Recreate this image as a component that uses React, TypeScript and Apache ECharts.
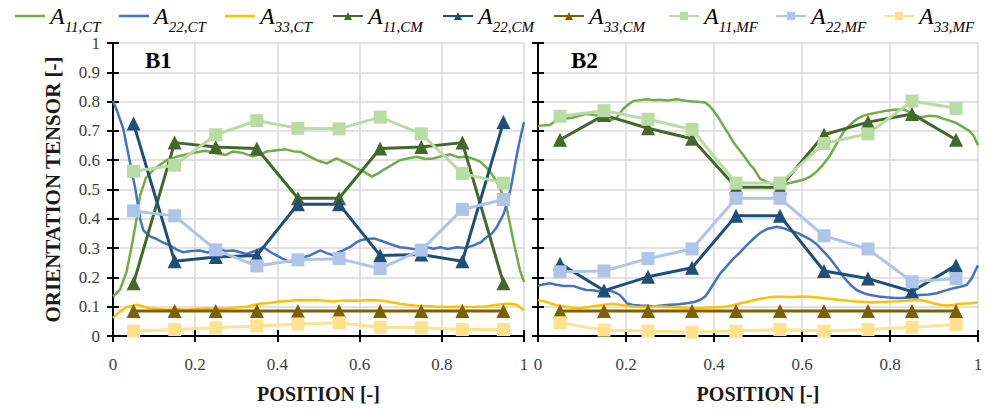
import React, { useEffect, useRef } from "react";
import * as echarts from "echarts";

// ---------- data ----------
const seriesNames = ["A11,CT", "A22,CT", "A33,CT", "A11,CM", "A22,CM", "A33,CM", "A11,MF", "A22,MF", "A33,MF"];
const panelLabels = ["B1", "B2"];
const xAxisTitle = "POSITION [-]";
const yAxisTitle = "ORIENTATION TENSOR [-]";

const discreteX = [0.05, 0.15, 0.25, 0.35, 0.45, 0.55, 0.65, 0.75, 0.85, 0.95];

// B1 discrete series
const b1_A11_CM = [0.18, 0.66, 0.645, 0.64, 0.47, 0.47, 0.64, 0.645, 0.66, 0.18];
const b1_A22_CM = [0.725, 0.255, 0.27, 0.275, 0.45, 0.45, 0.275, 0.278, 0.255, 0.73];
const b1_A33_CM = [0.085, 0.085, 0.085, 0.085, 0.085, 0.085, 0.085, 0.085, 0.085, 0.085];
const b1_A11_MF = [0.562, 0.583, 0.687, 0.735, 0.709, 0.707, 0.747, 0.69, 0.555, 0.522];
const b1_A22_MF = [0.427, 0.41, 0.294, 0.239, 0.26, 0.264, 0.23, 0.293, 0.432, 0.466];
const b1_A33_MF = [0.017, 0.022, 0.028, 0.034, 0.041, 0.045, 0.03, 0.028, 0.022, 0.022];

// B2 discrete series
const b2_A11_CM = [0.67, 0.754, 0.709, 0.673, 0.508, 0.507, 0.687, 0.73, 0.758, 0.67];
const b2_A22_CM = [0.247, 0.155, 0.202, 0.233, 0.41, 0.41, 0.222, 0.196, 0.152, 0.241];
const b2_A33_CM = [0.085, 0.085, 0.085, 0.085, 0.085, 0.085, 0.085, 0.085, 0.085, 0.085];
const b2_A11_MF = [0.75, 0.769, 0.74, 0.705, 0.522, 0.522, 0.657, 0.69, 0.802, 0.777];
const b2_A22_MF = [0.219, 0.222, 0.264, 0.297, 0.47, 0.47, 0.342, 0.297, 0.185, 0.196];
const b2_A33_MF = [0.045, 0.02, 0.017, 0.013, 0.017, 0.022, 0.017, 0.022, 0.03, 0.039];

// B1 continuous (CT) curves: [position, value]
const b1_A11_CT = [[0,0.135],[0.017,0.158],[0.033,0.219],[0.045,0.303],[0.058,0.404],[0.066,0.48],[0.08,0.54],[0.1,0.57],[0.13,0.6],[0.155,0.612],[0.18,0.62],[0.2,0.626],[0.225,0.632],[0.252,0.623],[0.275,0.618],[0.292,0.63],[0.315,0.625],[0.34,0.613],[0.36,0.62],[0.374,0.63],[0.4,0.634],[0.42,0.637],[0.44,0.63],[0.455,0.629],[0.475,0.615],[0.496,0.6],[0.52,0.589],[0.544,0.606],[0.56,0.595],[0.577,0.584],[0.595,0.57],[0.61,0.561],[0.63,0.544],[0.645,0.555],[0.658,0.567],[0.68,0.585],[0.698,0.6],[0.72,0.607],[0.739,0.612],[0.76,0.604],[0.779,0.606],[0.8,0.614],[0.82,0.62],[0.84,0.61],[0.86,0.612],[0.88,0.603],[0.893,0.595],[0.905,0.58],[0.917,0.562],[0.93,0.535],[0.942,0.505],[0.958,0.437],[0.974,0.326],[0.99,0.225],[1,0.185]];
const b1_A22_CT = [[0,0.802],[0.012,0.76],[0.025,0.707],[0.041,0.595],[0.054,0.505],[0.058,0.47],[0.066,0.4],[0.074,0.36],[0.09,0.34],[0.106,0.331],[0.12,0.32],[0.139,0.309],[0.155,0.295],[0.17,0.286],[0.19,0.29],[0.211,0.292],[0.23,0.285],[0.252,0.297],[0.275,0.29],[0.293,0.292],[0.31,0.286],[0.325,0.28],[0.345,0.29],[0.366,0.303],[0.385,0.285],[0.398,0.275],[0.415,0.262],[0.43,0.253],[0.445,0.26],[0.463,0.269],[0.479,0.275],[0.504,0.292],[0.52,0.283],[0.535,0.276],[0.548,0.285],[0.56,0.292],[0.578,0.305],[0.593,0.32],[0.605,0.328],[0.617,0.331],[0.635,0.333],[0.65,0.326],[0.674,0.314],[0.698,0.303],[0.715,0.3],[0.73,0.297],[0.745,0.295],[0.763,0.303],[0.78,0.298],[0.796,0.303],[0.815,0.297],[0.836,0.303],[0.855,0.3],[0.877,0.309],[0.895,0.32],[0.909,0.337],[0.922,0.35],[0.933,0.37],[0.95,0.415],[0.962,0.47],[0.97,0.52],[0.98,0.6],[0.99,0.67],[1,0.73]];
const b1_A33_CT = [[0,0.062],[0.017,0.084],[0.033,0.098],[0.058,0.107],[0.075,0.1],[0.09,0.095],[0.11,0.092],[0.13,0.09],[0.155,0.092],[0.18,0.09],[0.2,0.092],[0.228,0.094],[0.25,0.093],[0.277,0.095],[0.3,0.097],[0.325,0.1],[0.357,0.11],[0.38,0.113],[0.406,0.118],[0.43,0.12],[0.455,0.123],[0.475,0.122],[0.495,0.123],[0.515,0.12],[0.535,0.118],[0.555,0.12],[0.576,0.121],[0.6,0.12],[0.617,0.123],[0.637,0.122],[0.657,0.12],[0.678,0.115],[0.698,0.11],[0.72,0.106],[0.739,0.103],[0.76,0.102],[0.779,0.101],[0.8,0.1],[0.82,0.099],[0.84,0.1],[0.86,0.099],[0.885,0.1],[0.909,0.101],[0.93,0.106],[0.95,0.109],[0.965,0.11],[0.982,0.107],[1,0.087]];

// B2 continuous (CT) curves
const b2_A11_CT = [[0,0.715],[0.005,0.718],[0.027,0.72],[0.05,0.746],[0.065,0.742],[0.08,0.746],[0.095,0.752],[0.11,0.758],[0.125,0.755],[0.141,0.752],[0.152,0.745],[0.164,0.735],[0.179,0.746],[0.193,0.774],[0.205,0.79],[0.217,0.802],[0.232,0.805],[0.247,0.808],[0.262,0.805],[0.277,0.806],[0.295,0.804],[0.315,0.808],[0.335,0.803],[0.353,0.8],[0.368,0.799],[0.38,0.797],[0.39,0.785],[0.399,0.769],[0.41,0.745],[0.421,0.718],[0.433,0.69],[0.444,0.662],[0.455,0.64],[0.467,0.617],[0.482,0.585],[0.49,0.572],[0.505,0.536],[0.527,0.522],[0.55,0.516],[0.573,0.522],[0.603,0.533],[0.62,0.545],[0.633,0.561],[0.648,0.585],[0.664,0.617],[0.68,0.66],[0.694,0.696],[0.71,0.722],[0.724,0.74],[0.74,0.752],[0.755,0.758],[0.775,0.764],[0.792,0.769],[0.81,0.772],[0.83,0.774],[0.85,0.76],[0.868,0.746],[0.888,0.752],[0.906,0.75],[0.92,0.742],[0.936,0.735],[0.952,0.726],[0.967,0.712],[0.98,0.7],[0.99,0.684],[1,0.651]];
const b2_A22_CT = [[0,0.17],[0.005,0.174],[0.027,0.18],[0.042,0.175],[0.058,0.171],[0.08,0.171],[0.095,0.163],[0.11,0.157],[0.125,0.156],[0.141,0.152],[0.164,0.155],[0.176,0.148],[0.186,0.14],[0.195,0.125],[0.202,0.112],[0.215,0.106],[0.232,0.104],[0.25,0.103],[0.262,0.101],[0.28,0.104],[0.3,0.107],[0.32,0.108],[0.338,0.112],[0.355,0.116],[0.368,0.123],[0.38,0.135],[0.39,0.157],[0.402,0.185],[0.414,0.213],[0.43,0.24],[0.444,0.264],[0.459,0.285],[0.474,0.309],[0.489,0.331],[0.505,0.352],[0.52,0.365],[0.543,0.373],[0.558,0.368],[0.573,0.359],[0.59,0.352],[0.603,0.342],[0.618,0.33],[0.633,0.314],[0.648,0.29],[0.664,0.264],[0.68,0.232],[0.694,0.202],[0.71,0.175],[0.724,0.157],[0.74,0.146],[0.755,0.14],[0.775,0.135],[0.792,0.132],[0.81,0.13],[0.83,0.13],[0.85,0.135],[0.868,0.14],[0.888,0.142],[0.906,0.146],[0.925,0.155],[0.944,0.163],[0.96,0.168],[0.974,0.174],[0.985,0.195],[0.993,0.22],[1,0.241]];
const b2_A33_CT = [[0,0.123],[0.015,0.118],[0.027,0.112],[0.042,0.105],[0.058,0.101],[0.075,0.097],[0.095,0.095],[0.115,0.099],[0.133,0.103],[0.15,0.107],[0.17,0.11],[0.185,0.107],[0.2,0.103],[0.22,0.1],[0.24,0.099],[0.26,0.1],[0.277,0.101],[0.295,0.099],[0.315,0.098],[0.335,0.096],[0.353,0.095],[0.375,0.096],[0.399,0.098],[0.415,0.099],[0.43,0.101],[0.445,0.106],[0.46,0.112],[0.475,0.117],[0.49,0.122],[0.505,0.127],[0.52,0.131],[0.535,0.134],[0.555,0.134],[0.573,0.133],[0.59,0.134],[0.61,0.135],[0.63,0.132],[0.65,0.129],[0.668,0.126],[0.686,0.123],[0.705,0.12],[0.724,0.118],[0.745,0.116],[0.763,0.114],[0.78,0.116],[0.8,0.118],[0.82,0.119],[0.838,0.12],[0.855,0.122],[0.868,0.123],[0.884,0.118],[0.898,0.112],[0.914,0.107],[0.929,0.104],[0.944,0.106],[0.959,0.11],[0.972,0.111],[0.982,0.112],[1,0.114]];

// ---------- styles ----------
const STYLE: Record<string, { color: string; symbol: string; size: number; width: number }> = {
  "A11,CT": { color: "#70AD47", symbol: "none", size: 0, width: 2.5 },
  "A22,CT": { color: "#4472C4", symbol: "none", size: 0, width: 2.5 },
  "A33,CT": { color: "#FFC000", symbol: "none", size: 0, width: 2.5 },
  "A11,CM": { color: "#43682B", symbol: "triangle", size: 14, width: 3 },
  "A22,CM": { color: "#1F4E79", symbol: "triangle", size: 14, width: 3 },
  "A33,CM": { color: "#7F6000", symbol: "triangle", size: 14, width: 3 },
  "A11,MF": { color: "#B9DCA4", symbol: "rect", size: 13, width: 3 },
  "A22,MF": { color: "#AEC4E8", symbol: "rect", size: 13, width: 3 },
  "A33,MF": { color: "#FFE18E", symbol: "rect", size: 13, width: 3 },
};

const SERIF = "'Liberation Serif', 'Times New Roman', serif";

function pair(xs: number[], ys: number[]) {
  return xs.map((x, i) => [x, ys[i]]);
}

function buildSeries() {
  const panels = [
    {
      "A11,CT": b1_A11_CT, "A22,CT": b1_A22_CT, "A33,CT": b1_A33_CT,
      "A11,CM": pair(discreteX, b1_A11_CM), "A22,CM": pair(discreteX, b1_A22_CM), "A33,CM": pair(discreteX, b1_A33_CM),
      "A11,MF": pair(discreteX, b1_A11_MF), "A22,MF": pair(discreteX, b1_A22_MF), "A33,MF": pair(discreteX, b1_A33_MF),
    },
    {
      "A11,CT": b2_A11_CT, "A22,CT": b2_A22_CT, "A33,CT": b2_A33_CT,
      "A11,CM": pair(discreteX, b2_A11_CM), "A22,CM": pair(discreteX, b2_A22_CM), "A33,CM": pair(discreteX, b2_A33_CM),
      "A11,MF": pair(discreteX, b2_A11_MF), "A22,MF": pair(discreteX, b2_A22_MF), "A33,MF": pair(discreteX, b2_A33_MF),
    },
  ];
  const out: any[] = [];
  panels.forEach((p: any, gi) => {
    seriesNames.forEach((name) => {
      const s = STYLE[name];
      out.push({
        type: "line",
        name,
        xAxisIndex: gi,
        yAxisIndex: gi,
        data: p[name],
        symbol: s.symbol,
        symbolSize: s.size,
        showSymbol: s.symbol !== "none",
        lineStyle: { color: s.color, width: s.width },
        itemStyle: { color: s.color },
        z: 3,
      });
    });
  });
  return out;
}

const legendLefts = [15, 119, 225, 332, 442, 553, 668, 775, 883];

export default function App() {
  const ref = useRef<HTMLDivElement>(null);
  useEffect(() => {
    if (!ref.current) return;
    const chart = echarts.init(ref.current, null, { renderer: "svg" });
    const grids = [
      { left: 113, top: 43, width: 411, height: 297 },
      { left: 538, top: 43, width: 440, height: 297 },
    ];
    const axisLine = { show: true, onZero: false, lineStyle: { color: "#000", width: 2 } };
    const tickStyle = { color: "#000", width: 2 };
    const splitLine = { show: true, lineStyle: { color: "#D9D9D9", width: 1.5 } };
    const labelStyle = { fontFamily: SERIF, fontSize: 17, color: "#404040" };
    const nameStyle = { fontFamily: SERIF, fontSize: 20, fontWeight: "bold", color: "#1a1a1a" };

    const xMain = [0, 1].map((g) => ({
      type: "value", gridIndex: g, min: 0, max: 1, interval: 0.2,
      axisLine, axisTick: { show: true, length: 6, lineStyle: tickStyle },
      axisLabel: { ...labelStyle, margin: 20 },
      splitLine,
      name: xAxisTitle, nameLocation: "middle", nameGap: 48, nameTextStyle: nameStyle,
    }));
    const xOver = [0, 1].map((g) => ({
      type: "value", gridIndex: g, min: 0, max: 1, interval: 0.2, position: "bottom",
      axisLine: { show: false }, axisTick: { show: true, inside: true, length: 6, lineStyle: tickStyle },
      axisLabel: { show: false }, splitLine: { show: false },
    }));
    const yMain = [0, 1].map((g) => ({
      type: "value", gridIndex: g, min: 0, max: 1, interval: 0.1,
      axisLine, axisTick: { show: true, length: 6, lineStyle: tickStyle },
      axisLabel: { ...labelStyle, margin: 13, show: g === 0 },
      splitLine,
      name: g === 0 ? yAxisTitle : "", nameLocation: "middle", nameGap: 50, nameRotate: 90,
      nameTextStyle: { ...nameStyle, fontSize: 21 },
    }));
    const yOver = [0, 1].map((g) => ({
      type: "value", gridIndex: g, min: 0, max: 1, interval: 0.1, position: "left",
      axisLine: { show: false }, axisTick: { show: true, inside: true, length: 6, lineStyle: tickStyle },
      axisLabel: { show: false }, splitLine: { show: false },
    }));

    const legends = seriesNames.map((name, i) => {
      const isCT = STYLE[name].symbol === "none";
      return {
        data: [name],
        left: legendLefts[i],
        top: 4,
        padding: 0,
        itemWidth: 30,
        itemHeight: isCT ? 2.5 : 10,
        icon: isCT ? "rect" : undefined,
        itemGap: 0,
        formatter: (n: string) => `{a|A}{s|${n.slice(1)}}`,
        textStyle: {
          rich: {
            a: { fontFamily: SERIF, fontStyle: "italic", fontSize: 24, lineHeight: 36, color: "#000", verticalAlign: "middle" },
            s: { fontFamily: SERIF, fontStyle: "italic", fontSize: 15, lineHeight: 14, color: "#000", verticalAlign: "bottom" },
          },
        },
      };
    });

    chart.setOption({
      animation: false,
      backgroundColor: "#fff",
      grid: grids,
      xAxis: [...xMain, ...xOver],
      yAxis: [...yMain, ...yOver],
      legend: legends,
      series: buildSeries(),
      graphic: [
        { type: "text", left: 145, top: 49, style: { text: panelLabels[0], font: `bold 23px ${SERIF}`, fill: "#000" } },
        { type: "text", left: 571, top: 49, style: { text: panelLabels[1], font: `bold 23px ${SERIF}`, fill: "#000" } },
      ],
    });
    return () => chart.dispose();
  }, []);
  return (
    <div
      ref={ref}
      style={{ position: "fixed", left: 0, top: 0, width: 991, height: 409, background: "#fff" }}
    />
  );
}
